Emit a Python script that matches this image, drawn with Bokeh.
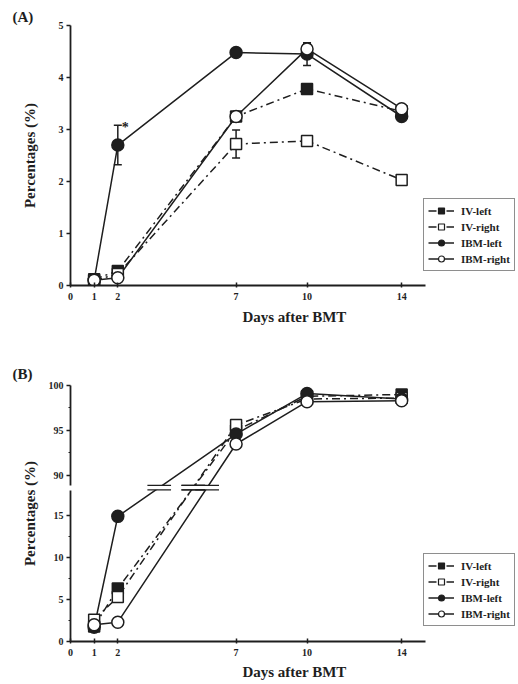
from bokeh.plotting import figure
from bokeh.layouts import column
from bokeh.models import (FixedTicker, Legend, LegendItem, Whisker, TeeHead,
                          ColumnDataSource, Range1d)
from bokeh.embed import file_html
from bokeh.resources import INLINE
from bokeh.core.properties import value

# ---------------- data ----------------
days = [1, 2, 7, 10, 14]
x_ticks = [0, 1, 2, 7, 10, 14]
series_names = ["IV-left", "IV-right", "IBM-left", "IBM-right"]

a_iv_left = [0.12, 0.28, 3.25, 3.78, 3.35]
a_iv_right = [0.10, 0.22, 2.72, 2.78, 2.03]
a_ibm_left = [0.10, 2.70, 4.48, 4.45, 3.25]
a_ibm_right = [0.10, 0.15, 3.25, 4.55, 3.40]
a_iv_left_err = [0, 0, 0, 0, 0.08]
a_iv_right_err = [0, 0, 0.27, 0, 0]
a_ibm_left_err = [0, 0.38, 0.05, 0.22, 0]
a_ibm_right_err = [0, 0, 0, 0.10, 0]

b_iv_left = [1.8, 6.3, 95.0, 98.8, 99.0]
b_iv_right = [2.6, 5.3, 95.6, 98.5, 98.6]
b_ibm_left = [1.7, 14.9, 94.6, 99.1, 98.5]
b_ibm_right = [2.0, 2.3, 93.5, 98.2, 98.3]

a_y_ticks = [0, 1, 2, 3, 4, 5]
b_y_ticks = [0, 5, 10, 15, 90, 95, 100]
b_y_minor = [2.5, 7.5, 12.5, 92.5, 97.5]

# ---------------- styles ----------------
INK = "#1e1e1e"
FONT = "Liberation Serif"
DASHDOT = "8 4 2 4"
styles = {
    "IV-left": dict(marker="square", fill=INK, dash=DASHDOT, size=11),
    "IV-right": dict(marker="square", fill="white", dash=DASHDOT, size=11),
    "IBM-left": dict(marker="circle", fill=INK, dash="solid", size=12),
    "IBM-right": dict(marker="circle", fill="white", dash="solid", size=12),
}

# broken-axis transform for panel B
B_TOP = 30.48
B_UP_SCALE = 1.0714
B_BREAK = 18.33
B_PX_PER_UNIT = 8.4


def tb(v):
    return v if v < 50 else B_TOP - (100 - v) * B_UP_SCALE


def style_axes(p, ylabel_standoff):
    p.outline_line_color = None
    p.xgrid.visible = False
    p.ygrid.visible = False
    for ax in (p.xaxis[0], p.yaxis[0]):
        ax.axis_line_color = INK
        ax.axis_line_width = 1.8
        ax.major_tick_line_color = INK
        ax.major_tick_line_width = 1.5
        ax.minor_tick_line_color = INK
        ax.major_label_text_font = FONT
        ax.major_label_text_font_style = "bold"
        ax.major_label_text_font_size = "10px"
        ax.major_label_text_color = INK
        ax.axis_label_text_font = FONT
        ax.axis_label_text_font_style = "bold"
        ax.axis_label_text_font_size = "15px"
        ax.axis_label_text_color = INK
    xa = p.xaxis[0]
    xa.ticker = FixedTicker(ticks=x_ticks)
    xa.bounds = (0, 15)
    xa.major_tick_in = 3
    xa.major_tick_out = 2
    xa.minor_tick_line_color = None
    xa.major_label_standoff = 5
    xa.axis_label = "Days after BMT"
    xa.axis_label_standoff = 6
    ya = p.yaxis[0]
    ya.major_tick_in = 0
    ya.major_tick_out = 4
    ya.minor_tick_in = 0
    ya.minor_tick_out = 2
    ya.major_label_standoff = 3
    ya.axis_label = "Percentages (%)"
    ya.axis_label_standoff = ylabel_standoff


def style_title(p, text, standoff):
    p.title.text = text
    p.title.align = "left"
    p.title.offset = -58
    p.title.standoff = standoff
    p.title.text_font = FONT
    p.title.text_font_style = "bold"
    p.title.text_font_size = "15px"
    p.title.text_color = INK


def add_legend(p, bottom):
    items = []
    nan = float("nan")
    for name in series_names:
        s = styles[name]
        lr = p.line(x=days[:1], y=[nan], line_color=INK, line_width=1.5, line_dash=s["dash"])
        sr = p.scatter(x=days[:1], y=[nan], marker=s["marker"], size=6, fill_color=s["fill"],
                       line_color=INK, line_width=1.2)
        items.append(LegendItem(label=name, renderers=[lr, sr]))
    leg = Legend(items=items, location=(353, bottom))
    leg.border_line_color = INK
    leg.border_line_width = 1.3
    leg.background_fill_color = "white"
    leg.padding = 4
    leg.margin = 0
    leg.spacing = 1
    leg.glyph_width = 26
    leg.glyph_height = 15
    leg.label_height = 15
    leg.label_standoff = 7
    leg.label_text_font = FONT
    leg.label_text_font_style = "bold"
    leg.label_text_font_size = "11px"
    leg.label_text_color = INK
    p.add_layout(leg)


def draw_series(p, data):
    for name in series_names:
        s = styles[name]
        p.line(days, data[name], line_color=INK, line_width=1.5, line_dash=s["dash"])
    for name in series_names:
        s = styles[name]
        p.scatter(days, data[name], marker=s["marker"], size=s["size"],
                  fill_color=s["fill"], line_color=INK, line_width=1.5)


# ---------------- panel A ----------------
pA = figure(width=518, height=335, output_backend="svg", toolbar_location=None,
            x_range=Range1d(0, 18.94), y_range=Range1d(0, 5),
            min_border_left=70, min_border_right=0, min_border_top=25,
            min_border_bottom=50)
style_axes(pA, 18)
style_title(pA, "(A)", 2)
pA.yaxis[0].ticker = FixedTicker(ticks=a_y_ticks, minor_ticks=[])
pA.yaxis[0].bounds = (0, 5)

a_data = {"IV-left": a_iv_left, "IV-right": a_iv_right,
          "IBM-left": a_ibm_left, "IBM-right": a_ibm_right}
a_err = {"IV-left": a_iv_left_err, "IV-right": a_iv_right_err,
         "IBM-left": a_ibm_left_err, "IBM-right": a_ibm_right_err}

for name in series_names:
    xs, up, lo = [], [], []
    for d, v, e in zip(days, a_data[name], a_err[name]):
        if e > 0:
            xs.append(d)
            up.append(v + e)
            lo.append(v - e)
    if xs:
        src = ColumnDataSource(dict(x=xs, upper=up, lower=lo))
        pA.add_layout(Whisker(base="x", upper="upper", lower="lower", source=src,
                              dimension="height", line_color=INK, line_width=1.5,
                              upper_head=TeeHead(size=8, line_color=INK, line_width=1.5),
                              lower_head=TeeHead(size=8, line_color=INK, line_width=1.5)))

draw_series(pA, a_data)

# significance star above IBM-left day 2
star_i = 1
pA.text(x=[days[star_i]], y=[a_ibm_left[star_i] + a_ibm_left_err[star_i]], text=["*"],
        x_offset=4, y_offset=2, text_font=value(FONT), text_font_style="bold",
        text_font_size="14px", text_color=INK, text_baseline="middle")

add_legend(pA, 14)

# ---------------- panel B ----------------
pB = figure(width=518, height=349, output_backend="svg", toolbar_location=None,
            x_range=Range1d(0, 18.94), y_range=Range1d(0, B_TOP),
            min_border_left=70, min_border_right=0, min_border_top=50,
            min_border_bottom=43)
style_axes(pB, 8)
style_title(pB, "(B)", 7)
pB.yaxis[0].ticker = FixedTicker(ticks=[tb(v) for v in b_y_ticks],
                                 minor_ticks=[tb(v) for v in b_y_minor])
pB.yaxis[0].major_label_overrides = {tb(v): str(v) for v in b_y_ticks}
pB.yaxis[0].bounds = (0, B_TOP)
# gap in the y axis line at the break
gap_px = B_BREAK * B_PX_PER_UNIT
pB.yaxis[0].axis_line_dash = "%d 5 300" % int(gap_px - 2.5)
pB.xaxis[0].axis_label_standoff = 5

b_data = {"IV-left": [tb(v) for v in b_iv_left], "IV-right": [tb(v) for v in b_iv_right],
          "IBM-left": [tb(v) for v in b_ibm_left], "IBM-right": [tb(v) for v in b_ibm_right]}

for name in series_names:
    s = styles[name]
    pB.line(days, b_data[name], line_color=INK, line_width=1.5, line_dash=s["dash"])

# break marks where the lines cross the axis break
cross = []
for name in series_names:
    y0, y1 = b_data[name][1], b_data[name][2]
    x0, x1 = days[1], days[2]
    cross.append(x0 + (B_BREAK - y0) / (y1 - y0) * (x1 - x0))
pB.rect(x=cross, y=[B_BREAK] * len(cross), width=1.0, height=0.5,
        fill_color="white", line_color=None)
pB.segment(x0=[c - 0.5 for c in cross], x1=[c + 0.5 for c in cross],
           y0=[B_BREAK + 0.27] * len(cross), y1=[B_BREAK + 0.27] * len(cross),
           line_color=INK, line_width=1.3)
pB.segment(x0=[c - 0.5 for c in cross], x1=[c + 0.5 for c in cross],
           y0=[B_BREAK - 0.27] * len(cross), y1=[B_BREAK - 0.27] * len(cross),
           line_color=INK, line_width=1.3)

for name in series_names:
    s = styles[name]
    pB.scatter(days, b_data[name], marker=s["marker"], size=s["size"],
               fill_color=s["fill"], line_color=INK, line_width=1.5)

add_legend(pB, 15)

layout = column(pA, pB, spacing=0)
open("out.html", "w").write(file_html(layout, INLINE))
